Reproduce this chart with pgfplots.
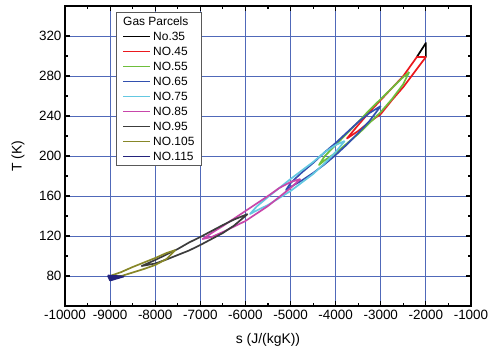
\documentclass[border=0pt]{standalone}
\usepackage{fontspec}
\setmainfont{Liberation Sans}
\usepackage{pgfplots}
\pgfplotsset{compat=1.18}
\definecolor{gridblue}{RGB}{80,105,185}
\definecolor{cA}{RGB}{0,0,0}
\definecolor{cB}{RGB}{235,25,30}
\definecolor{cC}{RGB}{110,190,60}
\definecolor{cD}{RGB}{50,80,175}
\definecolor{cE}{RGB}{100,200,225}
\definecolor{cF}{RGB}{200,70,170}
\definecolor{cG}{RGB}{60,60,60}
\definecolor{cH}{RGB}{135,135,40}
\definecolor{cI}{RGB}{35,35,125}
\begin{document}
\begin{tikzpicture}
\useasboundingbox (0,0) rectangle (490bp,358bp);
\begin{axis}[
  at={(65bp,52bp)}, anchor=south west,
  scale only axis, width=406bp, height=300bp,
  xmin=-10000, xmax=-1000, ymin=50, ymax=350,
  xtick={-10000,-9000,...,-1000}, ytick={80,120,...,320},
  scaled x ticks=false, scaled y ticks=false,
  minor x tick num=1, minor y tick num=1,
  tick align=inside,
  major tick length=5bp, minor tick length=3bp,
  every tick/.style={black, line width=1.1bp},
  axis line style={line width=1.5bp},
  grid=major, major grid style={gridblue, line width=0.8bp},
  /pgf/number format/assume math mode=true,
  /pgf/number format/1000 sep={},
  ticklabel style={font=\fontsize{13.5}{15}\selectfont},
  xticklabel style={yshift=-1bp},
  xlabel={s (J/(kgK))}, ylabel={T (K)},
  label style={font=\fontsize{14}{16}\selectfont},
  xlabel style={at={(axis description cs:0.5,-0.1133)}, anchor=center},
  ylabel style={at={(axis description cs:-0.1158,0.5)}, anchor=center, rotate=0},
  no markers,
  every axis plot/.append style={line width=1.7bp, line join=round, sharp plot},
  legend cell align=left,
  legend image code/.code={\draw[#1, line width=1.4bp] (0bp,0bp) -- (27bp,0bp);},
  legend style={at={(axis description cs:0.1256,0.98)}, anchor=north west,
    draw=black!65, line width=0.7bp, fill=white,
    font=\fontsize{12}{14}\selectfont,
    inner xsep=6bp, inner ysep=2.6bp,
    nodes={inner sep=0.5bp, text height=10bp, text depth=1.5bp},
    row sep=2.5bp, column sep=2bp},
]
\addlegendimage{empty legend}
\addlegendentry{\hspace{-30bp}Gas Parcels}

\addplot[draw=cA] coordinates {(-2200,299) (-2000,313) (-2000,299) (-2200,299)};
\addlegendentry{No.35}

\addplot[draw=cB] coordinates {(-2000,299) (-2200,299) (-2500,280) (-2750,268) (-3000,256) (-3250,244) (-3500,231) (-3750,217.5) (-3500,225) (-3250,234) (-3000,242) (-2750,256) (-2500,269) (-2250,284) (-2000,299)};
\addlegendentry{NO.45}

\addplot[draw=cC] coordinates {(-2370,284) (-2500,279) (-2750,268) (-3000,257) (-3250,246) (-3500,234) (-3750,222.5) (-4000,211) (-4250,199.5) (-4370,191) (-4250,195.5) (-4000,203) (-3750,212.5) (-3500,222) (-3250,233) (-3000,244) (-2750,257) (-2500,272) (-2370,284)};
\addlegendentry{NO.55}

\addplot[draw=cD] coordinates {(-3000,250) (-3250,243) (-3500,234) (-3750,223.5) (-4000,213) (-4250,203.5) (-4500,193) (-4750,183.5) (-5000,173) (-5100,166) (-5000,169) (-4750,175.5) (-4500,183) (-4250,191.5) (-4000,201) (-3750,211.5) (-3500,223) (-3250,235) (-3000,250)};
\addlegendentry{NO.65}

\addplot[draw=cE] coordinates {(-3800,215) (-4000,211) (-4250,203.5) (-4500,194) (-4750,185.5) (-5000,177) (-5250,168) (-5500,159) (-5750,149.5) (-5900,142) (-5750,145.5) (-5500,151) (-5250,158) (-5000,165) (-4750,173.5) (-4500,182) (-4250,192.5) (-4000,204) (-3800,215)};
\addlegendentry{NO.75}

\addplot[draw=cF] coordinates {(-4780,177) (-5000,174) (-5250,168) (-5500,160) (-5750,152.5) (-6000,145) (-6250,137.5) (-6500,130) (-6750,123) (-6950,117) (-6750,119) (-6500,124) (-6250,129.5) (-6000,135) (-5750,142.5) (-5500,150) (-5250,159) (-5000,168) (-4780,177)};
\addlegendentry{NO.85}

\addplot[draw=cG] coordinates {(-5950,142) (-6250,136.5) (-6500,131) (-6750,125) (-7000,119) (-7250,113.5) (-7500,107) (-7750,101.5) (-8000,96) (-8300,90) (-8000,92.5) (-7750,96.5) (-7500,101) (-7250,105.5) (-7000,111) (-6750,117) (-6500,123) (-6250,130.5) (-5950,142)};
\addlegendentry{NO.95}

\addplot[draw=cH] coordinates {(-7550,106) (-7750,103) (-8000,98) (-8250,93.5) (-8500,89) (-8750,84) (-9000,80) (-8750,80) (-8500,83.5) (-8250,87) (-8000,91) (-7750,97) (-7550,106)};
\addlegendentry{NO.105}

\addplot[draw=cI, fill=cI] coordinates {(-9050,80.5) (-8700,79.5) (-9000,75.5) (-9050,80.5)};
\addlegendentry{NO.115}
\end{axis}
\end{tikzpicture}
\end{document}
